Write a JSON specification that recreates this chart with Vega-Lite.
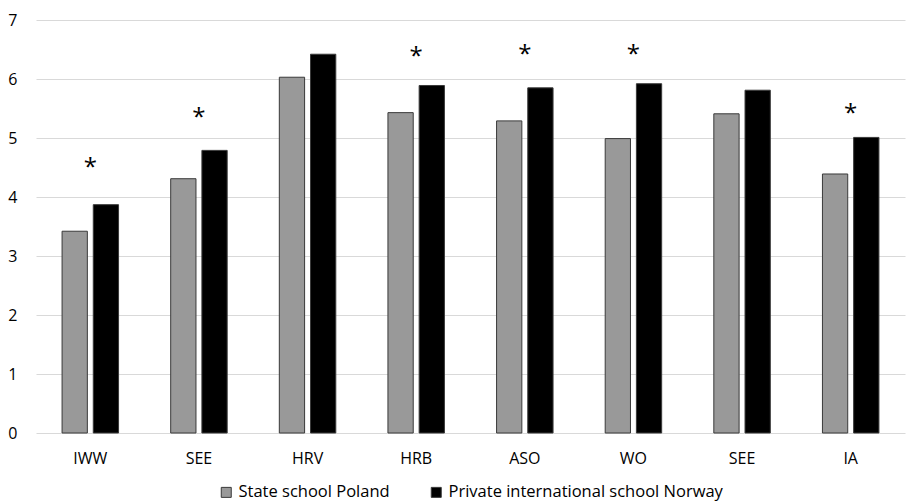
{
  "$schema": "https://vega.github.io/schema/vega-lite/v6.json",
  "width": 869,
  "height": 413,
  "autosize": {"type": "none"},
  "padding": {"left": 36, "top": 20, "right": 7, "bottom": 68},
  "background": "white",
  "config": {
    "view": {"stroke": null},
    "font": "Open Sans",
    "axis": {"labelFont": "Open Sans", "labelFontSize": 16, "labelColor": "#000000"},
    "legend": {"layout": {"bottom": {"anchor": "middle"}}}
  },
  "datasets": {
    "bars": [
      {"item": "IWW", "school": "State school Poland", "value": 3.42},
      {"item": "IWW", "school": "Private international school Norway", "value": 3.87},
      {"item": "SEE", "school": "State school Poland", "value": 4.31},
      {"item": "SEE", "school": "Private international school Norway", "value": 4.79},
      {"item": "HRV", "school": "State school Poland", "value": 6.03},
      {"item": "HRV", "school": "Private international school Norway", "value": 6.42},
      {"item": "HRB", "school": "State school Poland", "value": 5.43},
      {"item": "HRB", "school": "Private international school Norway", "value": 5.89},
      {"item": "ASO", "school": "State school Poland", "value": 5.29},
      {"item": "ASO", "school": "Private international school Norway", "value": 5.85},
      {"item": "WO", "school": "State school Poland", "value": 4.99},
      {"item": "WO", "school": "Private international school Norway", "value": 5.92},
      {"item": "SEE ", "school": "State school Poland", "value": 5.41},
      {"item": "SEE ", "school": "Private international school Norway", "value": 5.81},
      {"item": "IA", "school": "State school Poland", "value": 4.39},
      {"item": "IA", "school": "Private international school Norway", "value": 5.01}
    ],
    "stars": [
      {"item": "IWW", "pos": 4.58},
      {"item": "SEE", "pos": 5.42},
      {"item": "HRB", "pos": 6.45},
      {"item": "ASO", "pos": 6.5},
      {"item": "WO", "pos": 6.5},
      {"item": "IA", "pos": 5.5}
    ]
  },
  "layer": [
    {
      "data": {"name": "bars"},
      "mark": {"type": "bar", "stroke": "#3a3a3a", "strokeWidth": 1},
      "encoding": {
        "x": {
          "field": "item", "type": "nominal", "sort": null,
          "scale": {"paddingInner": 0.48, "paddingOuter": 0.24},
          "axis": {"title": null, "labelAngle": 0, "ticks": false, "domain": false, "labelPadding": 17, "grid": false}
        },
        "xOffset": {
          "field": "school", "type": "nominal",
          "sort": ["State school Poland", "Private international school Norway"],
          "scale": {"paddingInner": 0.19, "paddingOuter": 0}
        },
        "y": {
          "field": "value", "type": "quantitative",
          "scale": {"domain": [0, 7], "nice": false},
          "axis": {"title": null, "values": [0, 1, 2, 3, 4, 5, 6, 7], "format": "d", "ticks": false, "domain": false, "grid": true, "gridColor": "#d9d9d9", "gridWidth": 1, "labelPadding": 19}
        },
        "color": {
          "field": "school", "type": "nominal",
          "scale": {"domain": ["State school Poland", "Private international school Norway"], "range": ["#999999", "#000000"]},
          "legend": {
            "title": null, "orient": "bottom", "direction": "horizontal",
            "symbolType": "square", "symbolSize": 100, "symbolStrokeColor": "#3a3a3a", "symbolStrokeWidth": 1,
            "labelFontSize": 16.5, "labelFont": "Open Sans", "labelColor": "#000000", "labelLimit": 500,
            "columnPadding": 38, "labelOffset": 4, "offset": 18
          }
        }
      }
    },
    {
      "data": {"name": "stars"},
      "mark": {"type": "text", "text": "*", "fontSize": 24, "font": "Open Sans", "baseline": "middle", "dy": 5, "color": "#000000"},
      "encoding": {
        "x": {"field": "item", "type": "nominal", "sort": null},
        "y": {"field": "pos", "type": "quantitative"}
      }
    }
  ]
}
